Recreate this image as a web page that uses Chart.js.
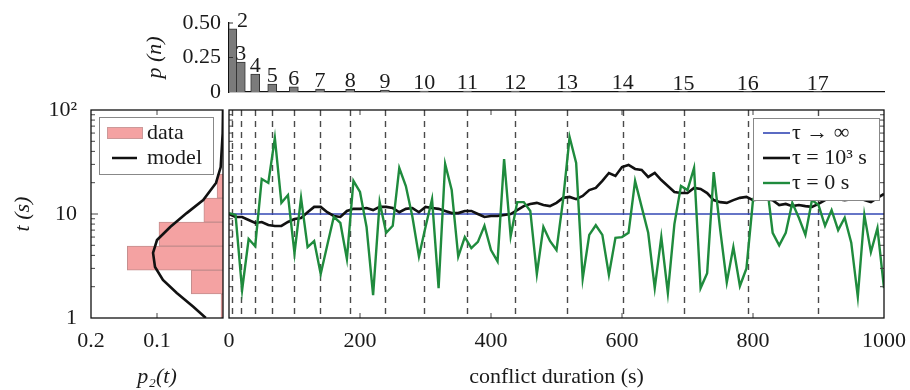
<!DOCTYPE html>
<html>
<head>
<meta charset="utf-8">
<script src="https://cdn.jsdelivr.net/npm/chart.js@4.4.1/dist/chart.umd.min.js"></script>
<style>
  html, body { margin: 0; padding: 0; background: #fff; }
  #wrap { position: relative; width: 910px; height: 390px; }
  #wrap canvas { position: absolute; left: 0; top: 0; }
</style>
</head>
<body>
<div id="wrap">
  <canvas id="topChart" width="910" height="390"></canvas>
  <canvas id="histChart" width="910" height="390"></canvas>
  <canvas id="mainChart" width="910" height="390"></canvas>
</div>
<script>
// boundaries between n and n+1 conflicts (s); the p(n) bars sit on them too
const boundaries = [5, 18, 40, 66, 99, 139, 185, 238, 298, 364, 437, 516, 601, 694, 792, 899];
const nConflicts = [2, 3, 4, 5, 6, 7, 8, 9, 10, 11, 12, 13, 14, 15, 16, 17];
const pN = [0.457, 0.217, 0.13, 0.058, 0.038, 0.022, 0.02, 0.014, 0.007, 0.007, 0.006, 0.004, 0.004, 0.003, 0.003, 0.003];

// p2(t) histogram, bins equally spaced in log t
const binCenters = [1.304, 2.217, 3.769, 6.407, 10.89, 18.52];
const binP = [0.003, 0.048, 0.145, 0.097, 0.029, 0.009];
const modelT = [1.0, 1.28, 1.74, 2.32, 3.09, 4.22, 5.62, 7.5, 10.2, 13.6, 19.9, 28.3, 60, 100];
const modelP = [0.026, 0.045, 0.070, 0.091, 0.103, 0.106, 0.100, 0.080, 0.055, 0.030, 0.0106, 0.0035, 0.0005, 0];

// conflict duration grid, every 10 s
const durations = Array.from({ length: 101 }, (_, i) => i * 10);
const tauInf = 10;
const tau1000 = [
  10.0, 9.36, 9.36, 8.75, 8.19, 8.38, 7.84, 7.67, 7.67, 8.38,
  8.95, 9.16, 10.4, 11.7, 11.7, 10.4, 9.57, 9.36, 10.7, 11.2,
  11.2, 11.4, 10.9, 11.7, 11.7, 11.4, 10.4, 11.2, 11.4, 10.4,
  11.7, 11.4, 11.2, 10.7, 10.2, 10.2, 10.7, 10.7, 10.0, 9.36,
  9.57, 9.57, 9.78, 10.0, 10.9, 11.9, 12.5, 12.8, 12.2, 11.9,
  12.8, 14.3, 14.6, 13.9, 14.9, 17.0, 17.8, 20.8, 24.8, 23.2,
  28.3, 29.6, 27.1, 26.5, 22.7, 24.8, 21.2, 18.6, 16.3, 15.9,
  15.9, 17.8, 17.4, 15.9, 13.6, 13.0, 12.8, 13.6, 14.3, 14.6,
  13.6, 13.9, 13.9, 13.6, 12.2, 12.5, 11.9, 12.2, 11.9, 11.7,
  12.5, 13.6, 14.3, 13.9, 13.6, 13.9, 14.6, 13.6, 13.0, 14.3,
  15.6
];
const tau0 = [
  10.2, 9.8, 1.86, 5.75, 4.9, 21.7, 19.9, 53.8, 12.8, 15.2,
  4.2, 14.3, 4.8, 5.5, 2.65, 5.0, 9.4, 8.2, 3.7, 20.8,
  16.3, 7.5, 1.66, 13.0, 6.6, 7.7, 27.7, 18.6, 9.4, 3.9,
  7.5, 13.9, 1.94, 30.3, 17.0, 3.9, 6.0, 4.7, 5.4, 7.7,
  4.5, 3.5, 33.8, 6.1, 13.0, 13.0, 10.7, 2.65, 7.5, 5.5,
  4.5, 13.6, 55, 31, 2.4, 6.3, 7.8, 6.3, 2.6, 5.9,
  6.0, 6.6, 20.8, 11.7, 6.6, 1.94, 6.0, 1.74, 8.0, 18.6,
  17.0, 27.7, 1.94, 2.7, 25.3, 7.0, 2.2, 4.8, 2.03, 3.0,
  13.6, 19, 22, 6.6, 5.0, 6.6, 12.8, 9.2, 6.3, 13.6,
  12.2, 7.7, 10.9, 7.0, 9.2, 5.3, 1.6, 9.8, 4.3, 7.3,
  1.94
];

const minorT = [2, 3, 4, 5, 6, 7, 8, 9, 20, 30, 40, 50, 60, 70, 80, 90];

const serif = '"Liberation Serif", "Times New Roman", serif';
Chart.defaults.font.family = serif;
Chart.defaults.font.size = 22;
Chart.defaults.color = '#1a1a1a';
Chart.defaults.animation = false;
Chart.defaults.events = [];
Chart.defaults.plugins.legend.display = false;
Chart.defaults.plugins.tooltip.enabled = false;

const green = '#1f8b3d';
const blue = '#3347b5';
const pink = '#f4a2a2';

function seg(ctx, x1, y1, x2, y2) {
  ctx.beginPath(); ctx.moveTo(x1, y1); ctx.lineTo(x2, y2); ctx.stroke();
}

function box(ctx, a) {
  ctx.strokeStyle = '#111';
  ctx.lineWidth = 1.3;
  ctx.setLineDash([]);
  ctx.strokeRect(a.left, a.top, a.right - a.left, a.bottom - a.top);
}

// keep the plot frame fixed, labels may hang over the edges
function fixX(h) {
  return s => { s.height = h; s.paddingLeft = 0; s.paddingRight = 0; };
}

// ---------- top: p(n) ----------
const nLabels = {
  id: 'nLabels',
  afterDatasetsDraw(chart) {
    const { ctx, chartArea: a, scales: { x, y } } = chart;
    ctx.save();
    ctx.strokeStyle = '#333'; ctx.lineWidth = 1;
    [0.25, 0.5].forEach(v => { const py = y.getPixelForValue(v); seg(ctx, a.left, py, a.left + 4, py); });
    ctx.font = `22px ${serif}`;
    ctx.fillStyle = '#1a1a1a';
    ctx.textAlign = 'center';
    ctx.textBaseline = 'alphabetic';
    const zero = y.getPixelForValue(0);
    nConflicts.forEach((n, i) => {
      const t = String(n);
      const w = ctx.measureText(t).width;
      let cx = x.getPixelForValue(boundaries[i]);
      if (i === 0) cx = Math.max(cx, a.left + 8 + w / 2);
      const base = Math.min(y.getPixelForValue(pN[i]) - 2, zero - 2);
      ctx.fillText(t, cx, base);
    });
    ctx.restore();
  }
};

new Chart(document.getElementById('topChart'), {
  type: 'bar',
  data: {
    datasets: [{
      data: boundaries.map((b, i) => ({ x: b, y: pN[i] })),
      backgroundColor: '#7b7b7b',
      borderColor: '#333',
      borderWidth: 1,
      barThickness: 9
    }]
  },
  options: {
    responsive: false,
    layout: { padding: { left: 140, right: 26, top: 23, bottom: 298 } },
    scales: {
      x: {
        type: 'linear', min: 0, max: 1000, offset: false,
        grid: { display: false, drawTicks: false },
        ticks: { display: false },
        border: { display: true, color: '#111', width: 1.3 },
        afterFit: fixX(0)
      },
      y: {
        min: 0, max: 0.5,
        grid: { display: false, drawTicks: false },
        border: { display: true, color: '#111', width: 1.3 },
        ticks: { stepSize: 0.25, padding: 8, callback: v => v === 0 ? '0' : v.toFixed(2) },
        title: { display: true, text: 'p (n)', font: { style: 'italic', size: 22 }, padding: { top: 2, bottom: 0 } },
        afterFit: s => { s.width = 89; }
      }
    }
  },
  plugins: [nLabels]
});

// ---------- left: p2(t) ----------
const histDeco = {
  id: 'histDeco',
  afterDatasetsDraw(chart) {
    const { ctx, chartArea: a, scales: { x, y } } = chart;
    ctx.save();
    ctx.strokeStyle = '#444'; ctx.lineWidth = 1;
    minorT.forEach(v => { const py = y.getPixelForValue(v); seg(ctx, a.left, py, a.left + 4, py); });
    [10].forEach(v => { const py = y.getPixelForValue(v); seg(ctx, a.left, py, a.left + 7, py); });
    [0.1].forEach(v => { const px = x.getPixelForValue(v); seg(ctx, px, a.bottom, px, a.bottom - 5); seg(ctx, px, a.top, px, a.top + 5); });
    box(ctx, a);
    // legend
    const lx = a.left + 8, ly = a.top + 7;
    ctx.fillStyle = '#fff';
    ctx.fillRect(lx, ly, 114, 57);
    ctx.strokeStyle = '#888'; ctx.lineWidth = 1;
    ctx.strokeRect(lx + 0.5, ly + 0.5, 114, 57);
    ctx.fillStyle = pink;
    ctx.fillRect(lx + 8, ly + 10, 35, 11);
    ctx.strokeStyle = '#c99'; ctx.strokeRect(lx + 8.5, ly + 10.5, 35, 11);
    ctx.strokeStyle = '#111'; ctx.lineWidth = 2.5;
    seg(ctx, lx + 13, ly + 41, lx + 38, ly + 41);
    ctx.fillStyle = '#1a1a1a';
    ctx.font = `22px ${serif}`;
    ctx.textAlign = 'left'; ctx.textBaseline = 'middle';
    ctx.fillText('data', lx + 48, ly + 16);
    ctx.fillText('model', lx + 48, ly + 41);
    ctx.restore();
  }
};

new Chart(document.getElementById('histChart'), {
  type: 'bar',
  data: {
    datasets: [
      {
        type: 'line',
        data: modelT.map((t, i) => ({ x: modelP[i], y: t })),
        borderColor: '#111', borderWidth: 2.6, pointRadius: 0, tension: 0,
        indexAxis: 'y'
      },
      {
        data: binCenters.map((t, i) => ({ x: binP[i], y: t })),
        backgroundColor: pink,
        borderColor: 'rgba(190,130,130,0.9)',
        borderWidth: 1,
        categoryPercentage: 1,
        barPercentage: 1
      }
    ]
  },
  options: {
    indexAxis: 'y',
    responsive: false,
    layout: { padding: { left: 0, right: 687, top: 110, bottom: 0 } },
    scales: {
      x: {
        type: 'linear', min: 0, max: 0.2, reverse: true, offset: false,
        grid: { display: false, drawTicks: false },
        border: { display: false },
        afterBuildTicks: s => { s.ticks = [0.2, 0.1].map(v => ({ value: v })); },
        ticks: { padding: 10, callback: v => String(v) },
        title: { display: true, text: 'p\u2082(t)', font: { style: 'italic', size: 22 }, padding: { top: 0, bottom: 0 } },
        afterFit: fixX(72)
      },
      y: {
        type: 'logarithmic', min: 1, max: 100, offset: false,
        grid: { display: false, drawTicks: false, offset: false },
        border: { display: false },
        afterBuildTicks: s => { s.ticks = [1, 10, 100].map(v => ({ value: v })); },
        ticks: { padding: 14, autoSkip: false, callback: v => v === 100 ? '10\u00b2' : String(v) },
        title: { display: true, text: 't (s)', font: { style: 'italic', size: 22 }, padding: { top: 10, bottom: 0 } },
        afterFit: s => { s.width = 91; s.paddingTop = 0; s.paddingBottom = 0; }
      }
    }
  },
  plugins: [histDeco]
});

// ---------- main: conflict duration ----------
const mainDeco = {
  id: 'mainDeco',
  beforeDatasetsDraw(chart) {
    const { ctx, chartArea: a, scales: { x } } = chart;
    ctx.save();
    ctx.strokeStyle = '#4a4a4a';
    ctx.lineWidth = 1.4;
    ctx.setLineDash([6, 5]);
    boundaries.forEach(b => {
      const px = Math.round(x.getPixelForValue(b)) + 0.5;
      seg(ctx, px, a.top, px, a.bottom);
    });
    ctx.restore();
  },
  afterDatasetsDraw(chart) {
    const { ctx, chartArea: a, scales: { x, y } } = chart;
    ctx.save();
    ctx.strokeStyle = '#444'; ctx.lineWidth = 1;
    [200, 400, 600, 800].forEach(v => {
      const px = x.getPixelForValue(v);
      seg(ctx, px, a.bottom, px, a.bottom - 5);
      seg(ctx, px, a.top, px, a.top + 5);
    });
    minorT.forEach(v => {
      const py = y.getPixelForValue(v);
      seg(ctx, a.left, py, a.left + 4, py);
      seg(ctx, a.right, py, a.right - 4, py);
    });
    box(ctx, a);
    // legend
    const lx = a.right - 131, ly = a.top + 8;
    ctx.fillStyle = '#fff';
    ctx.fillRect(lx, ly, 126, 82);
    ctx.strokeStyle = '#888'; ctx.lineWidth = 1;
    ctx.strokeRect(lx + 0.5, ly + 0.5, 126, 82);
    ctx.font = `22px ${serif}`;
    ctx.textAlign = 'left'; ctx.textBaseline = 'middle';
    const ds = chart.data.datasets.slice().reverse();
    ds.forEach((d, i) => {
      const ry = ly + 15 + i * 25;
      ctx.strokeStyle = d.borderColor;
      ctx.lineWidth = d.borderWidth;
      seg(ctx, lx + 10, ry, lx + 37, ry);
      ctx.fillStyle = '#1a1a1a';
      ctx.fillText(d.label, lx + 39, ry);
    });
    ctx.restore();
  }
};

new Chart(document.getElementById('mainChart'), {
  type: 'line',
  data: {
    datasets: [
      { label: '\u03c4 = 0 s', data: durations.map((d, i) => ({ x: d, y: tau0[i] })), borderColor: green, borderWidth: 2.4, order: 1 },
      { label: '\u03c4 = 10\u00b3 s', data: durations.map((d, i) => ({ x: d, y: tau1000[i] })), borderColor: '#111', borderWidth: 2.6, order: 2 },
      { label: '\u03c4 \u2192 \u221e', data: [{ x: 0, y: tauInf }, { x: 1000, y: tauInf }], borderColor: blue, borderWidth: 1.6, order: 3 }
    ]
  },
  options: {
    responsive: false,
    layout: { padding: { left: 229, right: 26, top: 110, bottom: 0 } },
    elements: { point: { radius: 0 }, line: { tension: 0 } },
    scales: {
      x: {
        type: 'linear', min: 0, max: 1000,
        grid: { display: false, drawTicks: false },
        border: { display: false },
        ticks: { stepSize: 200, padding: 10, callback: v => String(v) },
        title: { display: true, text: 'conflict duration (s)', font: { size: 22 }, padding: { top: 0, bottom: 0 } },
        afterFit: fixX(72)
      },
      y: { type: 'logarithmic', min: 1, max: 100, display: false }
    }
  },
  plugins: [mainDeco]
});
</script>
</body>
</html>
